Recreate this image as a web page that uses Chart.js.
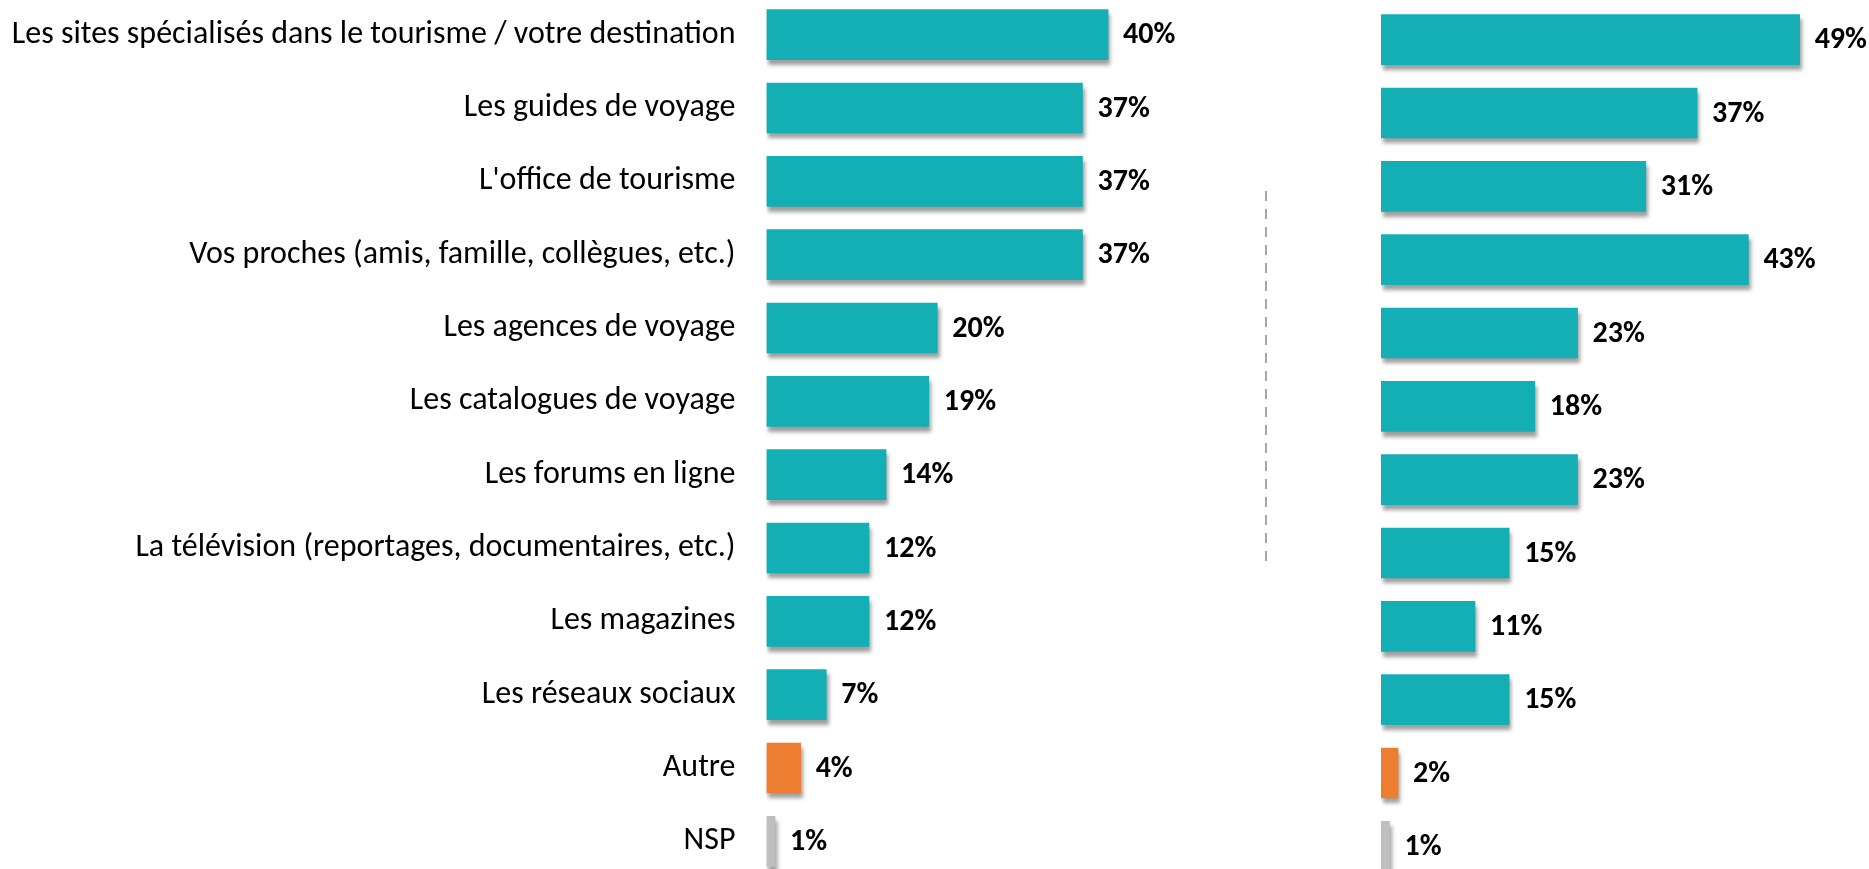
<!DOCTYPE html>
<html lang="fr">
<head>
<meta charset="utf-8">
<title>Sources d'information</title>
<script src="https://cdn.jsdelivr.net/npm/chart.js@4/dist/chart.umd.min.js"></script>
<style>
    html, body { margin: 0; padding: 0; background: #fff; overflow: hidden; }
    body { width: 1869px; height: 869px; position: relative; }
    #wrap-gauche { position: absolute; left: 0; top: -2px; width: 1300px; height: 880px; }
    #wrap-droite { position: absolute; left: 1300px; top: 3px; width: 569px; height: 880px; }
</style>
</head>
<body>
<div id="wrap-gauche"><canvas id="chart-gauche"></canvas></div>
<div id="wrap-droite"><canvas id="chart-droite"></canvas></div>
<script>
const categories = [
    'Les sites spécialisés dans le tourisme / votre destination',
    'Les guides de voyage',
    "L'office de tourisme",
    'Vos proches (amis, famille, collègues, etc.)',
    'Les agences de voyage',
    'Les catalogues de voyage',
    'Les forums en ligne',
    'La télévision (reportages, documentaires, etc.)',
    'Les magazines',
    'Les réseaux sociaux',
    'Autre',
    'NSP'
];
const valeursGauche = [40, 37, 37, 37, 20, 19, 14, 12, 12, 7, 4, 1];
const valeursDroite = [49, 37, 31, 43, 23, 18, 23, 15, 11, 15, 2, 1];

const TEAL = '#13AFB5';
const ORANGE = '#ED7D31';
const GRIS = '#BFBFBF';
const POLICE = "Carlito, Calibri, Lato, 'Open Sans', sans-serif";

// couleur de chaque barre : Autre en orange, NSP en gris
function couleurs() {
    return categories.map(c => {
        if (c === 'Autre') return ORANGE;
        if (c === 'NSP') return GRIS;
        return TEAL;
    });
}

// ombre portée sous les barres
const ombrePlugin = {
    id: 'ombre',
    beforeDatasetsDraw(chart) {
        const ctx = chart.ctx;
        ctx.save();
        ctx.shadowColor = 'rgba(0, 0, 0, 0.38)';
        ctx.shadowBlur = 4;
        ctx.shadowOffsetX = 2;
        ctx.shadowOffsetY = 5;
    },
    afterDatasetsDraw(chart) {
        chart.ctx.restore();
    }
};

// étiquettes de valeur en gras à droite des barres
const valeursPlugin = {
    id: 'valeurs',
    afterDraw(chart) {
        const ctx = chart.ctx;
        const meta = chart.getDatasetMeta(0);
        const data = chart.data.datasets[0].data;
        ctx.save();
        ctx.font = 'bold 30px ' + POLICE;
        ctx.fillStyle = '#000';
        ctx.textAlign = 'left';
        ctx.textBaseline = 'middle';
        meta.data.forEach((bar, i) => {
            ctx.fillText(data[i] + '%', bar.x + 15, bar.y + 1);
        });
        ctx.restore();
    }
};

// ligne pointillée verticale entre les deux blocs
const separateurPlugin = {
    id: 'separateur',
    afterDraw(chart) {
        const ctx = chart.ctx;
        ctx.save();
        ctx.strokeStyle = '#A6A6A6';
        ctx.lineWidth = 2;
        ctx.setLineDash([10, 8]);
        ctx.beginPath();
        ctx.moveTo(1266, 193);
        ctx.lineTo(1266, 571);
        ctx.stroke();
        ctx.restore();
    }
};

function creerGraphique(id, valeurs, options) {
    const ctx = document.getElementById(id);
    return new Chart(ctx, {
        type: 'bar',
        data: {
            labels: categories,
            datasets: [{
                data: valeurs,
                backgroundColor: couleurs(),
                borderWidth: 0,
                barThickness: 50
            }]
        },
        options: {
            indexAxis: 'y',
            responsive: true,
            maintainAspectRatio: false,
            animation: false,
            layout: { padding: options.padding },
            plugins: {
                legend: { display: false },
                tooltip: { enabled: false }
            },
            scales: {
                x: {
                    display: false,
                    min: 0,
                    max: options.max
                },
                y: options.y
            }
        },
        plugins: options.plugins
    });
}

// bloc de gauche, avec les libellés
creerGraphique('chart-gauche', valeursGauche, {
    max: 50,
    padding: { left: 0, right: 106.5, top: 0, bottom: 0 },
    plugins: [ombrePlugin, valeursPlugin, separateurPlugin],
    y: {
        grid: { display: false, drawTicks: false },
        border: { display: false },
        ticks: {
            padding: 31,
            color: '#000',
            font: { family: POLICE, size: 32 }
        },
        afterFit(scale) {
            scale.width = 766.5;
            scale.paddingTop = 0;
            scale.paddingBottom = 0;
        }
    }
});

// bloc de droite, sans libellés
creerGraphique('chart-droite', valeursDroite, {
    max: 57,
    padding: { left: 81, right: 1, top: 0, bottom: 0 },
    plugins: [ombrePlugin, valeursPlugin],
    y: { display: false }
});
</script>
</body>
</html>
